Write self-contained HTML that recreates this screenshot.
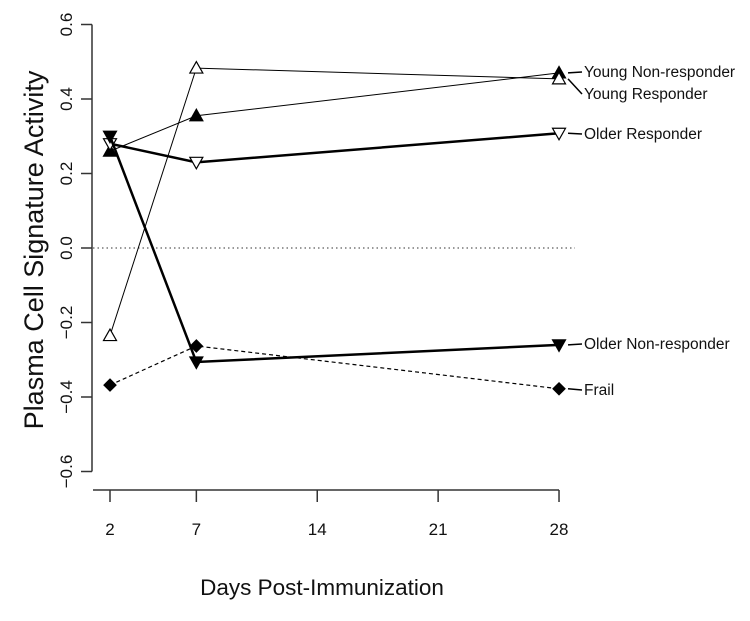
<!DOCTYPE html>
<html><head><meta charset="utf-8"><style>
html,body{margin:0;padding:0;background:#fff;}
svg{display:block;font-family:"Liberation Sans",Arial,sans-serif;}
</style></head><body>
<svg id="chart" width="750" height="621" viewBox="0 0 750 621">
<g id="axes"></g><g id="series"></g><g id="labels"></g>
</svg>
<script>
const days = [2, 7, 28];
const xTicks = [2, 7, 14, 21, 28];
const yTicks = [-0.6, -0.4, -0.2, 0.0, 0.2, 0.4, 0.6];
const youngNonResponder = [0.26, 0.355, 0.47];
const youngResponder = [-0.235, 0.483, 0.454];
const olderResponder = [0.28, 0.23, 0.308];
const olderNonResponder = [0.30, -0.306, -0.26];
const frail = [-0.368, -0.263, -0.378];
const seriesNames = ["Young Non-responder","Young Responder","Older Responder","Older Non-responder","Frail"];

const NS = "http://www.w3.org/2000/svg";
function x(d){ return 110 + (d - 2) * 17.27; }
function y(v){ return 248 - v * 372.5; }
function mk(tag, attrs, parent){ const e=document.createElementNS(NS,tag); for(const k in attrs) e.setAttribute(k,attrs[k]); parent.appendChild(e); return e; }
const axes=document.getElementById('axes'), ser=document.getElementById('series'), lab=document.getElementById('labels');

let ya = mk('line',{x1:92,y1:y(0.6),x2:92,y2:y(-0.6),stroke:'#333','stroke-width':1.5},axes);
 
yTicks.forEach(v=>{
  const t=mk('line',{x1:81,y1:y(v),x2:92,y2:y(v),stroke:'#333','stroke-width':1.5},axes);
   
  const tx=mk('text',{x:0,y:0,'font-size':17,'text-anchor':'middle',fill:'#111',transform:`translate(72,${y(v)}) rotate(-90)`},axes);
  tx.textContent = v.toFixed(1).replace('-','\u2212');
   
});
let xa = mk('line',{x1:93,y1:490,x2:x(28),y2:490,stroke:'#333','stroke-width':1.5},axes);
 
xTicks.forEach(d=>{
  const t=mk('line',{x1:x(d),y1:490,x2:x(d),y2:502,stroke:'#333','stroke-width':1.5},axes);
   
  const tx=mk('text',{x:x(d),y:535,'font-size':17,'text-anchor':'middle',fill:'#111'},axes);
  tx.textContent=d;
   
});
let z=mk('line',{x1:93,y1:y(0),x2:575,y2:y(0),stroke:'#333','stroke-width':1,'stroke-dasharray':'1.5,3'},axes);
 
let xt=mk('text',{x:322,y:595,'font-size':22.5,'text-anchor':'middle',fill:'#111'},axes);
xt.textContent='Days Post-Immunization';
 
let yt=mk('text',{x:0,y:0,'font-size':27,'text-anchor':'middle',fill:'#111',transform:'translate(43,250) rotate(-90)'},axes);
yt.textContent='Plasma Cell Signature Activity';
 

function marker(kind,cx,cy,g){
  let p;
  const s=6.5;
  if(kind==='tri-up-filled'||kind==='tri-up-open')
    p=mk('polygon',{points:`${cx-s},${cy+5} ${cx+s},${cy+5} ${cx},${cy-6.5}`},g);
  else if(kind==='tri-down-filled'||kind==='tri-down-open')
    p=mk('polygon',{points:`${cx-s},${cy-5} ${cx+s},${cy-5} ${cx},${cy+6.5}`},g);
  else p=mk('polygon',{points:`${cx},${cy-6} ${cx+6},${cy} ${cx},${cy+6} ${cx-6},${cy}`},g);
  const filled=kind.endsWith('filled')||kind==='diamond';
  p.setAttribute('fill',filled?'#000':'#fff'); p.setAttribute('stroke','#000'); p.setAttribute('stroke-width',1.2);
  
  
}
const specs=[
 {vals:youngNonResponder,w:1,dash:null,m:'tri-up-filled',ly:72},
 {vals:youngResponder,w:1,dash:null,m:'tri-up-open',ly:94},
 {vals:olderResponder,w:2.5,dash:null,m:'tri-down-open',ly:134},
 {vals:olderNonResponder,w:2.5,dash:null,m:'tri-down-filled',ly:344},
 {vals:frail,w:1.2,dash:'4,3',m:'diamond',ly:390},
];
specs.forEach((sp,i)=>{
  const g=mk('g',{},ser);
  
  
  const pts=days.map((d,j)=>`${x(d)},${y(sp.vals[j])}`).join(' ');
  const a={points:pts,fill:'none',stroke:'#000','stroke-width':sp.w};
  if(sp.dash) a['stroke-dasharray']=sp.dash;
  const pl=mk('polyline',a,g);
   
  days.forEach((d,j)=>marker(sp.m,x(d),y(sp.vals[j]),g));
  const ex=x(28), ey=y(sp.vals[2]);
  const ld=mk('line',{x1:ex+9,y1:ey,x2:582,y2:sp.ly,stroke:'#000','stroke-width':1.5},lab);
   
  const t=mk('text',{x:584,y:sp.ly+5,'font-size':15.5,fill:'#111'},lab);
  t.textContent=seriesNames[i];
   
});
</script>
</body></html>
